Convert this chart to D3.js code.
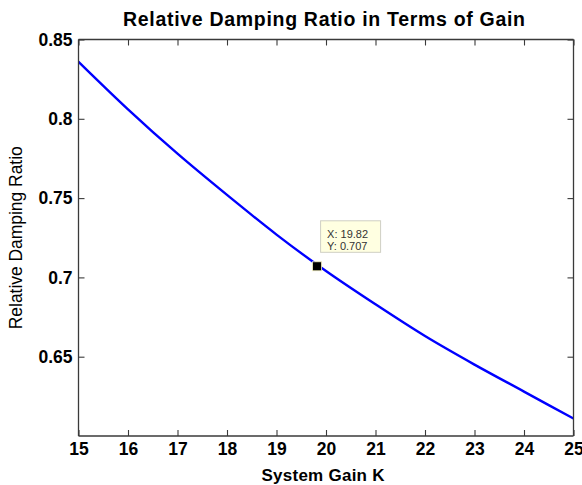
<!DOCTYPE html>
<html>
<head>
<meta charset="utf-8">
<script src="https://cdn.jsdelivr.net/npm/d3@7"></script>
<style>
  html, body { margin: 0; padding: 0; background: #ffffff; }
  svg { display: block; }
  text { font-family: "Liberation Sans", Arial, sans-serif; }
</style>
</head>
<body>
<svg id="chart" width="582" height="485"></svg>
<script>
// ---- data ----
const gainK = [15, 16, 17, 18, 19, 20, 21, 22, 23, 24, 25];
const dampingRatio = [0.836, 0.806, 0.778, 0.752, 0.727, 0.704, 0.683, 0.663, 0.645, 0.628, 0.611];
const xTickValues = [15, 16, 17, 18, 19, 20, 21, 22, 23, 24, 25];
const yTickValues = [0.65, 0.7, 0.75, 0.8, 0.85];
const xDomain = [15, 25];
const yDomain = [0.6, 0.85];
const dataTipX = [19.82];
const dataTipY = [0.707];
const titleText = "Relative Damping Ratio in Terms of Gain";
const xLabelText = "System Gain K";
const yLabelText = "Relative Damping Ratio";

// ---- layout ----
const svg = d3.select("#chart");
const pLeft = 78.5, pRight = 573.5, pTop = 39.5, pBottom = 436;
const axisColor = "#3a3a3a";

const x = d3.scaleLinear().domain(xDomain).range([pLeft, pRight]);
const y = d3.scaleLinear().domain(yDomain).range([pBottom, pTop]);

svg.append("clipPath").attr("id", "plotclip").append("rect")
  .attr("x", pLeft).attr("y", pTop).attr("width", pRight - pLeft).attr("height", pBottom - pTop);

// line
const pts = gainK.map((k, i) => [k, dampingRatio[i]]);
const line = d3.line().x(d => x(d[0])).y(d => y(d[1])).curve(d3.curveMonotoneX);
svg.append("path").datum(pts)
  .attr("d", line)
  .attr("fill", "none")
  .attr("stroke", "#0000ff")
  .attr("stroke-width", 2.4)
  .attr("clip-path", "url(#plotclip)");

// axes (ticks inward, box)
const tickLen = 6;
const fmt = v => String(v);

const xAxisBottom = d3.axisBottom(x).tickValues(xTickValues).tickSize(-tickLen).tickPadding(10).tickFormat(d3.format("d"));
const xAxisTop = d3.axisTop(x).tickValues(xTickValues).tickSize(-tickLen).tickFormat("");
const yAxisLeft = d3.axisLeft(y).tickValues(yTickValues).tickSize(-tickLen).tickPadding(12).tickFormat(fmt);
const yAxisRight = d3.axisRight(y).tickValues(yTickValues).tickSize(-tickLen).tickFormat("");

function styleAxis(g) {
  g.select(".domain").attr("stroke", axisColor).attr("stroke-width", 1.3);
  g.selectAll(".tick line").attr("stroke", axisColor).attr("stroke-width", 1.1);
  g.selectAll(".tick text")
    .attr("fill", "#000")
    .style("font-family", "'Liberation Sans', Arial, sans-serif")
    .style("font-size", "17.5px")
    .style("font-weight", "bold");
}

const gxb = svg.append("g").attr("transform", `translate(0,${pBottom})`).call(xAxisBottom);
gxb.call(styleAxis);
gxb.select(".domain").attr("d", `M${pLeft},0H${pRight}`);
gxb.selectAll(".tick text").attr("dy", "0.71em").attr("y", 7);

const gxt = svg.append("g").attr("transform", `translate(0,${pTop})`).call(xAxisTop);
gxt.call(styleAxis);
gxt.select(".domain").attr("d", `M${pLeft},0H${pRight}`);

const gyl = svg.append("g").attr("transform", `translate(${pLeft},0)`).call(yAxisLeft);
gyl.call(styleAxis);
gyl.select(".domain").attr("d", `M0,${pTop}V${pBottom}`);
gyl.selectAll(".tick text").attr("x", -6);

const gyr = svg.append("g").attr("transform", `translate(${pRight},0)`).call(yAxisRight);
gyr.call(styleAxis);
gyr.select(".domain").attr("d", `M0,${pTop}V${pBottom}`);

// data tip
const mx = x(dataTipX[0]), my = y(dataTipY[0]);
const boxW = 60, boxH = 31.5;
const bx = mx + 3.5, by = my - boxH - 14;
svg.append("rect")
  .attr("x", bx).attr("y", by).attr("width", boxW).attr("height", boxH)
  .attr("fill", "#ffffe1").attr("stroke", "#cfcfc4").attr("stroke-width", 1);
svg.append("text").attr("x", bx + 6.5).attr("y", by + 17)
  .attr("fill", "#333").style("font-size", "11px")
  .text("X: " + dataTipX[0]);
svg.append("text").attr("x", bx + 6.5).attr("y", by + 29.5)
  .attr("fill", "#333").style("font-size", "11px")
  .text("Y: " + dataTipY[0]);
svg.append("rect")
  .attr("x", mx - 4.5).attr("y", my - 4.5).attr("width", 9).attr("height", 9)
  .attr("fill", "#000").attr("stroke", "#f4f0c0").attr("stroke-width", 0.8);

// title & labels
svg.append("text").attr("x", 324).attr("y", 26)
  .attr("text-anchor", "middle").attr("fill", "#000")
  .attr("textLength", 402).attr("lengthAdjust", "spacing")
  .style("font-size", "19.5px").style("font-weight", "bold")
  .text(titleText);

svg.append("text").attr("x", 323).attr("y", 481)
  .attr("text-anchor", "middle").attr("fill", "#000")
  .attr("textLength", 123).attr("lengthAdjust", "spacing")
  .style("font-size", "17px").style("font-weight", "bold")
  .text(xLabelText);

svg.append("text")
  .attr("transform", `translate(21.5,${(pTop + pBottom) / 2}) rotate(-90)`)
  .attr("text-anchor", "middle").attr("fill", "#000")
  .attr("textLength", 183).attr("lengthAdjust", "spacing")
  .style("font-size", "17.5px")
  .text(yLabelText);
</script>
</body>
</html>
